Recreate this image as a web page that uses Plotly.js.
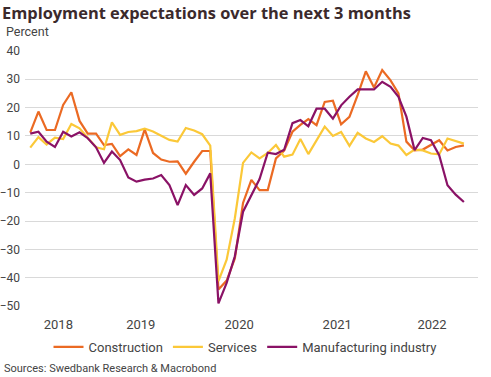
<!DOCTYPE html>
<html><head><meta charset="utf-8">
<script src="https://cdn.plot.ly/plotly-3.0.1.min.js"></script>
<style>html,body{margin:0;padding:0;background:#fff}#chart{width:491px;height:377px}</style>
</head><body><div id="chart"></div>
<script>
const months = ['2018-05','2018-06','2018-07','2018-08','2018-09','2018-10','2018-11','2018-12',
'2019-01','2019-02','2019-03','2019-04','2019-05','2019-06','2019-07','2019-08','2019-09','2019-10','2019-11','2019-12',
'2020-01','2020-02','2020-03','2020-04','2020-05','2020-06','2020-07','2020-08','2020-09','2020-10','2020-11','2020-12',
'2021-01','2021-02','2021-03','2021-04','2021-05','2021-06','2021-07','2021-08','2021-09','2021-10','2021-11','2021-12',
'2022-01','2022-02','2022-03','2022-04','2022-05','2022-06','2022-07','2022-08','2022-09','2022-10'];
const construction = [11.2,18.6,12.1,12.1,20.9,25.4,15.3,10.8,10.8,6.8,7.2,2.9,5.3,3.3,12.3,4.0,1.7,0.9,1.0,-3.3,0.9,4.7,4.7,
-44.1,-41.0,-33.2,-13.6,-5.5,-9.1,-9.1,2.1,4.8,11.5,13.9,15.9,13.8,22.0,22.4,14.1,16.7,24.4,32.8,27.1,33.2,29.6,25.0,
8.0,4.9,5.2,6.7,8.5,4.9,6.1,6.7];
const services = [5.9,9.6,7.0,9.4,8.9,14.2,12.7,9.2,6.0,5.3,14.8,10.4,11.4,11.7,12.6,11.6,10.2,8.6,8.0,12.8,11.9,10.6,6.6,
-41.2,-33.6,-19.0,0.5,4.2,2.1,4.0,6.8,2.7,3.4,8.9,3.6,8.6,13.3,10.0,11.4,6.5,11.1,9.1,7.9,9.9,7.3,6.6,
3.3,5.2,4.9,3.8,3.5,9.1,8.1,7.3];
const manufacturing = [10.8,11.5,8.0,6.1,11.5,9.8,11.3,9.2,6.0,0.5,4.5,1.5,-4.6,-6.1,-5.4,-5.0,-3.8,-7.3,-14.4,-7.3,-10.8,-8.5,-3.2,
-49.0,-41.8,-32.4,-16.7,-10.8,-5.2,4.1,3.6,5.1,14.5,15.6,13.4,19.6,19.6,16.1,20.8,23.8,26.4,26.4,26.4,29.1,27.3,23.8,
16.8,5.0,9.3,8.5,3.2,-7.4,-10.7,-13.3];
const seriesNames = ['Construction','Services','Manufacturing industry'];
const seriesColors = ['#eb6a23','#fbc838','#8a1266'];
const yearLabels = ['2018','2019','2020','2021','2022'];
const xRange = ['2018-04-27','2022-12-08'];

const W = 491, H = 377;
const M = {l:25, r:13, t:50, b:70};
const pw = W - M.l - M.r, ph = H - M.t - M.b;
function pxToPaperX(px){ return (px - M.l)/pw; }
function pyToPaperY(py){ return (H - M.b - py)/ph; }

// year label positions: centre of the visible part of each year
const r0 = Date.parse(xRange[0]), r1 = Date.parse(xRange[1]);
const tickvals = yearLabels.map(y => {
  const a = Math.max(Date.parse(y + '-01-01'), r0);
  const b = Math.min(Date.parse((+y + 1) + '-01-01'), r1);
  return new Date((a + b)/2).toISOString().slice(0,10);
});

const data = [construction, services, manufacturing].map((vals, k) => ({
  type:'scatter', mode:'lines', name: seriesNames[k],
  x: months, y: vals, xperiod:'M1', xperiodalignment:'middle',
  line:{color: seriesColors[k], width:2.2}, hoverinfo:'skip'
}));

const baseFont = {family:'Roboto, Arial, sans-serif', color:'#444'};
const layout = {
  width: W, height: H, margin: M,
  paper_bgcolor:'#fff', plot_bgcolor:'#fff',
  title:{text:'Employment expectations over the next 3 months', xref:'container', yref:'container',
    x:2/W, xanchor:'left', y:1-13/H, yanchor:'middle', pad:{t:0,b:0,l:0,r:0},
    font:{family:'Open Sans, sans-serif', size:16.4, weight:700, color:'#3b2a2c'}},
  xaxis:{type:'date', range:xRange, tickmode:'array', tickvals:tickvals, ticktext:yearLabels,
    showgrid:false, zeroline:false, showline:false, ticks:'', ticklabelstandoff:8,
    tickfont:Object.assign({size:13}, baseFont)},
  yaxis:{range:[-50.3,40.3], tickmode:'linear', tick0:0, dtick:10, showgrid:true, gridcolor:'#d9d9d9', gridwidth:1,
    zeroline:false, showline:false, ticks:'', ticklabelstandoff:4,
    tickfont:Object.assign({size:12}, baseFont)},
  showlegend:true,
  legend:{orientation:'h', x:0.5, xanchor:'center', xref:'container', y:1-(332/H), yref:'container', yanchor:'top',
    font:Object.assign({size:13}, baseFont), itemwidth:30, tracegroupgap:0},
  annotations:[
    {text:'Percent', xref:'paper', yref:'paper', x:pxToPaperX(4), y:pyToPaperY(31), xanchor:'left', yanchor:'middle',
     showarrow:false, font:Object.assign({size:12.5}, baseFont)},
    {text:'Sources: Swedbank Research & Macrobond', xref:'paper', yref:'paper', x:pxToPaperX(2), y:pyToPaperY(368),
     xanchor:'left', yanchor:'middle', showarrow:false, font:Object.assign({size:11}, baseFont)}
  ]
};
Plotly.newPlot('chart', data, layout, {staticPlot:true, displayModeBar:false});
</script></body></html>
